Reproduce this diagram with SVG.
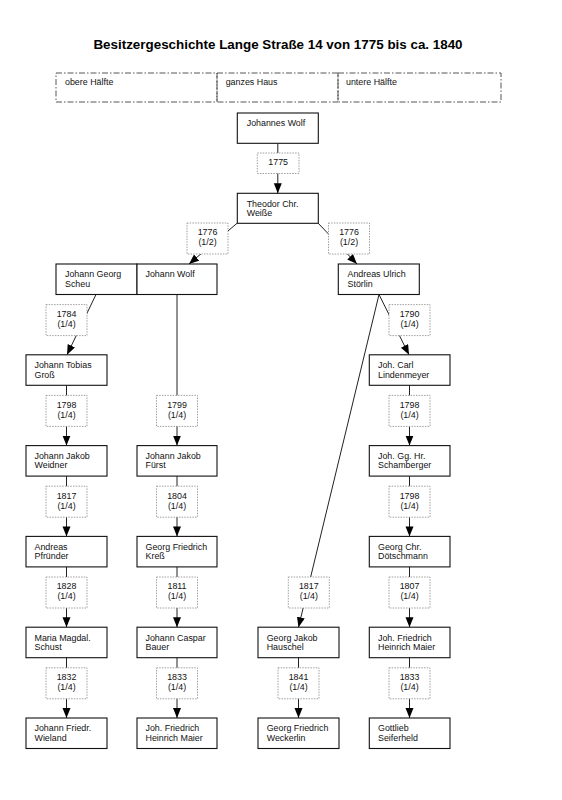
<svg xmlns="http://www.w3.org/2000/svg" width="562" height="800" viewBox="0 0 562 800">
<style>
text{font-family:"Liberation Sans",Arial,sans-serif;font-size:8.9px;fill:#111}
.title{font-size:13.4px;font-weight:bold;fill:#000}
.node rect{fill:#fff;stroke:#111;stroke-width:1.1}
.lbl rect{fill:#fff;stroke:#888;stroke-width:0.8;stroke-dasharray:1.5 1.2}
.lbl text{text-anchor:middle}
.hdr rect{fill:none;stroke:#444;stroke-width:0.9;stroke-dasharray:6 2 1.5 2}
#edges line{stroke:#222;stroke-width:1;marker-end:url(#arr)}
</style>
<defs>
<marker id="arr" markerUnits="userSpaceOnUse" markerWidth="10" markerHeight="9" refX="10" refY="4" orient="auto">
<path d="M0,0 L10,4 L0,8 z" fill="#000"/>
</marker>
</defs>
<rect width="562" height="800" fill="#fff"/>
<text class="title" x="278" y="48.5" text-anchor="middle">Besitzergeschichte Lange Straße 14 von 1775 bis ca. 1840</text>
<g id="header" class="hdr">
<rect x="56" y="73" width="161" height="29"/>
<rect x="217" y="73" width="121" height="29"/>
<rect x="338" y="73" width="163" height="29"/>
<text x="65" y="85">obere Hälfte</text>
<text x="225.7" y="85">ganzes Haus</text>
<text x="346" y="85">untere Hälfte</text>
</g>
<g id="edges">
<line x1="277.8" y1="143.3" x2="277.8" y2="193.3"/>
<line x1="237" y1="223.3" x2="189" y2="264"/>
<line x1="318.3" y1="223.3" x2="357" y2="264"/>
<line x1="96" y1="294.5" x2="67" y2="354.8"/>
<line x1="379" y1="294.5" x2="409" y2="354.8"/>
<line x1="379" y1="294.5" x2="298.5" y2="627.2"/>
<line x1="177" y1="294.5" x2="177" y2="445.6"/>
<line x1="66.5" y1="385.3" x2="66.5" y2="445.6"/>
<line x1="66.5" y1="476.1" x2="66.5" y2="536.4"/>
<line x1="66.5" y1="566.9" x2="66.5" y2="627.2"/>
<line x1="66.5" y1="657.7" x2="66.5" y2="718"/>
<line x1="177" y1="476.1" x2="177" y2="536.4"/>
<line x1="177" y1="566.9" x2="177" y2="627.2"/>
<line x1="177" y1="657.7" x2="177" y2="718"/>
<line x1="298.5" y1="657.7" x2="298.5" y2="718"/>
<line x1="409.5" y1="385.3" x2="409.5" y2="445.6"/>
<line x1="409.5" y1="476.1" x2="409.5" y2="536.4"/>
<line x1="409.5" y1="566.9" x2="409.5" y2="627.2"/>
<line x1="409.5" y1="657.7" x2="409.5" y2="718"/>
</g>
<g id="labels">
<g id="l1775" class="lbl"><rect x="257.3" y="153" width="41.7" height="20.5"/><text x="278.2" y="165.3">1775</text></g>
<g id="l1776a" class="lbl"><rect x="187" y="223" width="41" height="31"/><text x="207.5" y="235.4">1776</text><text x="207.5" y="245.4">(1/2)</text></g>
<g id="l1776b" class="lbl"><rect x="328.5" y="223" width="41" height="31"/><text x="349" y="235.4">1776</text><text x="349" y="245.4">(1/2)</text></g>
<g id="l1784" class="lbl"><rect x="46" y="304.6" width="41" height="31"/><text x="66.5" y="317">1784</text><text x="66.5" y="327">(1/4)</text></g>
<g id="l1790" class="lbl"><rect x="389" y="304.6" width="41" height="31"/><text x="409.5" y="317">1790</text><text x="409.5" y="327">(1/4)</text></g>
<g id="l1798a" class="lbl"><rect x="46" y="395.4" width="41" height="31"/><text x="66.5" y="407.8">1798</text><text x="66.5" y="417.8">(1/4)</text></g>
<g id="l1799" class="lbl"><rect x="156.5" y="395.4" width="41" height="31"/><text x="177" y="407.8">1799</text><text x="177" y="417.8">(1/4)</text></g>
<g id="l1798b" class="lbl"><rect x="389" y="395.4" width="41" height="31"/><text x="409.5" y="407.8">1798</text><text x="409.5" y="417.8">(1/4)</text></g>
<g id="l1817a" class="lbl"><rect x="46" y="486.2" width="41" height="31"/><text x="66.5" y="498.6">1817</text><text x="66.5" y="508.6">(1/4)</text></g>
<g id="l1804" class="lbl"><rect x="156.5" y="486.2" width="41" height="31"/><text x="177" y="498.6">1804</text><text x="177" y="508.6">(1/4)</text></g>
<g id="l1798c" class="lbl"><rect x="389" y="486.2" width="41" height="31"/><text x="409.5" y="498.6">1798</text><text x="409.5" y="508.6">(1/4)</text></g>
<g id="l1828" class="lbl"><rect x="46" y="577" width="41" height="31"/><text x="66.5" y="589.4">1828</text><text x="66.5" y="599.4">(1/4)</text></g>
<g id="l1811" class="lbl"><rect x="156.5" y="577" width="41" height="31"/><text x="177" y="589.4">1811</text><text x="177" y="599.4">(1/4)</text></g>
<g id="l1817b" class="lbl"><rect x="288.3" y="577" width="41" height="31"/><text x="308.8" y="589.4">1817</text><text x="308.8" y="599.4">(1/4)</text></g>
<g id="l1807" class="lbl"><rect x="389" y="577" width="41" height="31"/><text x="409.5" y="589.4">1807</text><text x="409.5" y="599.4">(1/4)</text></g>
<g id="l1832" class="lbl"><rect x="46" y="667.8" width="41" height="31"/><text x="66.5" y="680.2">1832</text><text x="66.5" y="690.2">(1/4)</text></g>
<g id="l1833a" class="lbl"><rect x="156.5" y="667.8" width="41" height="31"/><text x="177" y="680.2">1833</text><text x="177" y="690.2">(1/4)</text></g>
<g id="l1841" class="lbl"><rect x="278" y="667.8" width="41" height="31"/><text x="298.5" y="680.2">1841</text><text x="298.5" y="690.2">(1/4)</text></g>
<g id="l1833b" class="lbl"><rect x="389" y="667.8" width="41" height="31"/><text x="409.5" y="680.2">1833</text><text x="409.5" y="690.2">(1/4)</text></g>
</g>
<g id="n-johannes-wolf" class="node"><rect x="237.3" y="113" width="81" height="30.3"/><text x="246.7" y="126">Johannes Wolf</text></g>
<g id="n-theodor" class="node"><rect x="237.3" y="193.3" width="81" height="30"/><text x="246.7" y="206.5">Theodor Chr.</text><text x="246.7" y="216">Weiße</text></g>
<g id="n-scheu" class="node"><rect x="56" y="264" width="81" height="30.5"/><text x="65" y="277.3">Johann Georg</text><text x="65" y="286.8">Scheu</text></g>
<g id="n-johann-wolf" class="node"><rect x="137" y="264" width="80" height="30.5"/><text x="145.5" y="277.3">Johann Wolf</text></g>
<g id="n-stoerlin" class="node"><rect x="338.3" y="264" width="81" height="30.5"/><text x="347.5" y="277.3">Andreas Ulrich</text><text x="347.5" y="286.8">Störlin</text></g>
<g id="n-gross" class="node"><rect x="26" y="354.8" width="81" height="30.5"/><text x="34.5" y="368.1">Johann Tobias</text><text x="34.5" y="377.6">Groß</text></g>
<g id="n-lindenmeyer" class="node"><rect x="369.3" y="354.8" width="80.7" height="30.5"/><text x="378" y="368.1">Joh. Carl</text><text x="378" y="377.6">Lindenmeyer</text></g>
<g id="n-weidner" class="node"><rect x="26" y="445.6" width="81" height="30.5"/><text x="34.5" y="458.9">Johann Jakob</text><text x="34.5" y="468.4">Weidner</text></g>
<g id="n-fuerst" class="node"><rect x="137" y="445.6" width="80" height="30.5"/><text x="145.5" y="458.9">Johann Jakob</text><text x="145.5" y="468.4">Fürst</text></g>
<g id="n-schamberger" class="node"><rect x="369.3" y="445.6" width="80.7" height="30.5"/><text x="378" y="458.9">Joh. Gg. Hr.</text><text x="378" y="468.4">Schamberger</text></g>
<g id="n-pfruender" class="node"><rect x="26" y="536.4" width="81" height="30.5"/><text x="34.5" y="549.7">Andreas</text><text x="34.5" y="559.2">Pfründer</text></g>
<g id="n-kress" class="node"><rect x="137" y="536.4" width="80" height="30.5"/><text x="145.5" y="549.7">Georg Friedrich</text><text x="145.5" y="559.2">Kreß</text></g>
<g id="n-doetschmann" class="node"><rect x="369.3" y="536.4" width="80.7" height="30.5"/><text x="378" y="549.7">Georg Chr.</text><text x="378" y="559.2">Dötschmann</text></g>
<g id="n-schust" class="node"><rect x="26" y="627.2" width="81" height="30.5"/><text x="34.5" y="640.5">Maria Magdal.</text><text x="34.5" y="650">Schust</text></g>
<g id="n-bauer" class="node"><rect x="137" y="627.2" width="80" height="30.5"/><text x="145.5" y="640.5">Johann Caspar</text><text x="145.5" y="650">Bauer</text></g>
<g id="n-hauschel" class="node"><rect x="258" y="627.2" width="81" height="30.5"/><text x="266.7" y="640.5">Georg Jakob</text><text x="266.7" y="650">Hauschel</text></g>
<g id="n-maier-a" class="node"><rect x="369.3" y="627.2" width="80.7" height="30.5"/><text x="378" y="640.5">Joh. Friedrich</text><text x="378" y="650">Heinrich Maier</text></g>
<g id="n-wieland" class="node"><rect x="26" y="718" width="81" height="30.5"/><text x="34.5" y="731.3">Johann Friedr.</text><text x="34.5" y="740.8">Wieland</text></g>
<g id="n-maier-b" class="node"><rect x="137" y="718" width="80" height="30.5"/><text x="145.5" y="731.3">Joh. Friedrich</text><text x="145.5" y="740.8">Heinrich Maier</text></g>
<g id="n-weckerlin" class="node"><rect x="258" y="718" width="81" height="30.5"/><text x="266.7" y="731.3">Georg Friedrich</text><text x="266.7" y="740.8">Weckerlin</text></g>
<g id="n-seiferheld" class="node"><rect x="369.3" y="718" width="80.7" height="30.5"/><text x="378" y="731.3">Gottlieb</text><text x="378" y="740.8">Seiferheld</text></g>
</svg>
